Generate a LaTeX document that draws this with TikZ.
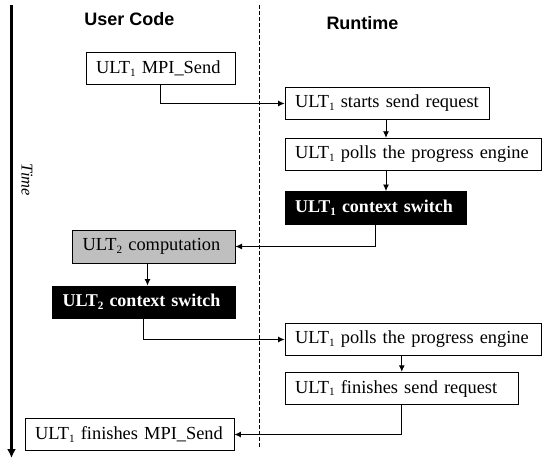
\documentclass[tikz,border=0pt]{standalone}
\usepackage{fontspec}
\setmainfont{Liberation Serif}
\newfontfamily\headfont{Liberation Sans}
\usetikzlibrary{arrows.meta}
% lowered index digit, as in ULT_1
\newcommand{\lowidx}[1]{\raisebox{-0.35ex}{\fontsize{11.2}{11.2}\selectfont #1}}
\tikzset{
  box/.style={draw, line width=0.9pt, inner xsep=10pt, inner ysep=0pt,
              align=left, font=\fontsize{18.4}{20}\selectfont, fill=white},
  blackbox/.style={box, fill=black, text=white,
              font=\fontsize{18}{20}\selectfont\bfseries},
  graybox/.style={box, fill=black!25},
  flow/.style={line width=0.9pt, -{Latex[length=6.5pt,width=6pt]}},
  heading/.style={font=\headfont\fontsize{18}{20}\selectfont\bfseries},
}
\begin{document}
\begin{tikzpicture}[x=1pt, y=-1pt]
\useasboundingbox (0,0) rectangle (542,460);

% time axis and lane separator
\coordinate (t0) at (11.5,5);
\coordinate (t1) at (11.5,458);
\draw[line width=2.6pt, -{Latex[length=9pt,width=9pt]}] (t0) -- (t1);
\coordinate (d0) at (259,5);
\coordinate (d1) at (259,448);
\draw[line width=0.8pt, dash pattern=on 4pt off 2pt] (d0) -- (d1);

\node[heading] (huser) at (129.5,19.5) {User Code};
\node[heading] (hrun) at (362.5,23) {Runtime};
\node[font=\fontsize{16.5}{18}\selectfont\itshape, rotate=-90] (time) at (27,180) {Time};

% steps
\node[box, text width=129pt, minimum height=32pt] (b1) at (160.5,68.5) {ULT\lowidx{1} MPI\_Send};
\node[box, text width=184pt, minimum height=32pt] (b2) at (387,103.5) {ULT\lowidx{1} starts send request};
\node[box, text width=236pt, minimum height=32.5pt] (b3) at (413,154.5) {ULT\lowidx{1} polls the progress engine};
\node[blackbox, text width=161.5pt, minimum height=33pt] (b4) at (375.8,208) {ULT\lowidx{1} context switch};
\node[graybox, text width=142.5pt, minimum height=33pt] (b5) at (153.8,246.5) {ULT\lowidx{2} computation};
\node[blackbox, text width=162.5pt, minimum height=32pt] (b6) at (143.8,302) {ULT\lowidx{2} context switch};
\node[box, text width=236pt, minimum height=32.5pt] (b7) at (413,339.5) {ULT\lowidx{1} polls the progress engine};
\node[box, text width=213.5pt, minimum height=32.5pt] (b8) at (401.8,388.5) {ULT\lowidx{1} finishes send request};
\node[box, text width=189pt, minimum height=31.5pt] (b9) at (129.5,434.5) {ULT\lowidx{1} finishes MPI\_Send};

% connectors
\coordinate (k2) at (386,0);
\coordinate (k5) at (147.5,0);
\draw[flow] (b1.south) |- (b2.west);
\draw[flow] (b2.south -| k2) -- (b3.north -| k2);
\draw[flow] (b3.south -| k2) -- (b4.north -| k2);
\draw[flow] (b4.south) |- (b5.east);
\draw[flow] (b5.south -| k5) -- (b6.north -| k5);
\draw[flow] (b6.south) |- (b7.west);
\draw[flow] (b7.south -| b8.north) -- (b8.north);
\draw[flow] (b8.south) |- (b9.east);
\end{tikzpicture}
\end{document}
